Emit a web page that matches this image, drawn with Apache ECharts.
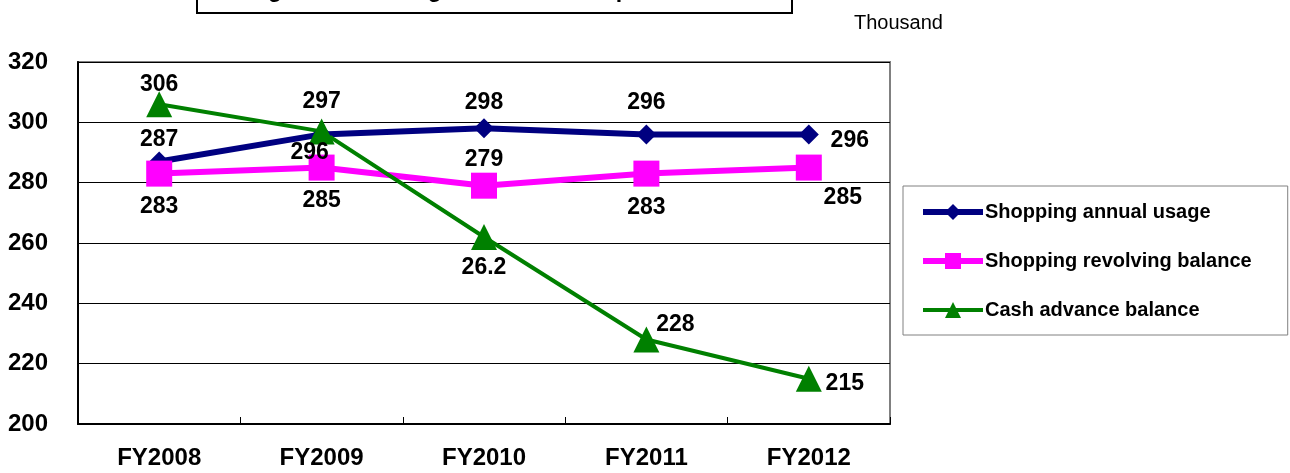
<!DOCTYPE html>
<html>
<head>
<meta charset="utf-8">
<script src="https://cdn.jsdelivr.net/npm/echarts@6/dist/echarts.min.js"></script>
<style>
  html, body { margin: 0; padding: 0; background: #fff; }
  #chart { width: 1290px; height: 473px; }
</style>
</head>
<body>
<div id="chart"></div>
<script>
  // values in thousand yen
  var categories = ['FY2008', 'FY2009', 'FY2010', 'FY2011', 'FY2012'];
  var shoppingUsage = [287, 296, 298, 296, 296];
  var revolvingBalance = [283, 285, 279, 283, 285];
  var cashAdvance = [306, 297, 262, 228, 215];
  // the source chart prints "26.2" for the FY2010 cash advance point
  var cashAdvanceLabels = ['306', '297', '26.2', '228', '215'];
  var yTicks = [200, 220, 240, 260, 280, 300, 320];

  // label offsets (px, from the point centre) so the numbers sit where the original has them
  var usageOffsets = [[0, -22], [-12, 18], [0, -26], [0, -32], [41, 6]];
  var revolvingOffsets = [[0, 33], [0, 33], [0, -26], [0, 34], [34, 30]];
  var cashOffsets = [[0, -20], [0, -30], [0, 31], [29, -15], [36, 5]];

  var FONT = '"Liberation Sans", Arial, sans-serif';

  function withLabels(values, offsets, texts) {
    return values.map(function (v, i) {
      return {
        value: v,
        label: {
          offset: offsets[i],
          formatter: texts ? texts[i] : String(v)
        }
      };
    });
  }

  var labelStyle = {
    show: true,
    position: 'inside',
    color: '#000',
    fontFamily: FONT,
    fontWeight: 'bold',
    fontSize: 23
  };

  var chart = echarts.init(document.getElementById('chart'));
  chart.setOption({
    backgroundColor: '#ffffff',
    animation: false,
    textStyle: { fontFamily: FONT },
    title: {
      text: 'Thousand',
      left: 849,
      top: 8,
      textStyle: { fontFamily: FONT, fontWeight: 'normal', fontSize: 20, color: '#000' }
    },
    graphic: [
      {
        type: 'rect',
        shape: { x: 197, y: -40, width: 595, height: 53 },
        style: { fill: '#fff', stroke: '#000', lineWidth: 2 },
        z: 10
      },
      {
        // only the bottom of the title line shows, the rest is cut off above the canvas
        type: 'text',
        x: 205,
        y: 2,
        style: {
          text: 'Average Annual Usage and Balances per Customer',
          font: 'bold 23px ' + FONT,
          fill: '#000',
          verticalAlign: 'bottom'
        },
        z: 11
      }
    ],
    legend: {
      orient: 'vertical',
      left: 903,
      top: 186,
      itemWidth: 60,
      itemHeight: 20,
      itemGap: 29,
      padding: [16, 36, 15, 17],
      borderColor: '#808080',
      borderWidth: 1,
      textStyle: { fontFamily: FONT, fontWeight: 'bold', fontSize: 20, color: '#000', padding: [0, 0, 0, -3] },
      data: [
        { name: 'Shopping annual usage', lineStyle: { width: 6 } },
        { name: 'Shopping revolving balance', lineStyle: { width: 6 } },
        { name: 'Cash advance balance', lineStyle: { width: 4 } }
      ]
    },
    grid: {
      left: 78,
      right: 400,
      top: 62,
      bottom: 49,
      show: true,
      borderColor: '#808080',
      borderWidth: 2
    },
    xAxis: {
      type: 'category',
      data: categories,
      boundaryGap: true,
      axisLine: { lineStyle: { color: '#000', width: 2 } },
      axisTick: { show: true, inside: true, length: 7, lineStyle: { color: '#000' } },
      axisLabel: { color: '#000', fontFamily: FONT, fontWeight: 'bold', fontSize: 24, margin: 22 }
    },
    yAxis: {
      type: 'value',
      min: yTicks[0],
      max: yTicks[yTicks.length - 1],
      interval: yTicks[1] - yTicks[0],
      axisLine: { show: true, lineStyle: { color: '#000', width: 2 } },
      axisTick: { show: false },
      splitLine: { lineStyle: { color: '#000', width: 1 } },
      axisLabel: { color: '#000', fontFamily: FONT, fontWeight: 'bold', fontSize: 24, margin: 70, align: 'left' }
    },
    series: [
      {
        name: 'Shopping annual usage',
        type: 'line',
        data: withLabels(shoppingUsage, usageOffsets),
        symbol: 'diamond',
        symbolSize: 20,
        color: '#000080',
        lineStyle: { color: '#000080', width: 6 },
        itemStyle: { color: '#000080' },
        label: labelStyle
      },
      {
        name: 'Shopping revolving balance',
        type: 'line',
        data: withLabels(revolvingBalance, revolvingOffsets),
        symbol: 'rect',
        symbolSize: 26,
        color: '#ff00ff',
        lineStyle: { color: '#ff00ff', width: 6 },
        itemStyle: { color: '#ff00ff' },
        label: labelStyle
      },
      {
        name: 'Cash advance balance',
        type: 'line',
        data: withLabels(cashAdvance, cashOffsets, cashAdvanceLabels),
        symbol: 'triangle',
        symbolSize: 26,
        color: '#008000',
        lineStyle: { color: '#008000', width: 4 },
        itemStyle: { color: '#008000' },
        label: labelStyle
      }
    ]
  });
</script>
</body>
</html>
